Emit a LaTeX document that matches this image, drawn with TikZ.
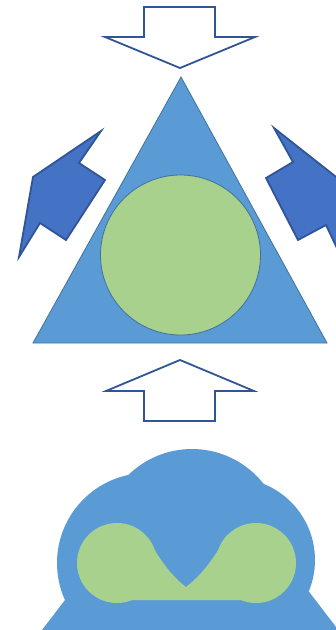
\documentclass[tikz,border=0pt]{standalone}
\definecolor{triblue}{HTML}{5B9BD5}
\definecolor{triedge}{HTML}{41719C}
\definecolor{arrfill}{HTML}{4472C4}
\definecolor{arredge}{HTML}{2F5597}
\definecolor{leaf}{HTML}{A9D18E}
\tikzset{
  outlinearrow/.style={draw=arredge, fill=white, line width=1.8pt, line join=miter},
  solidarrow/.style={draw=arredge, fill=arrfill, line width=1.8pt, line join=miter},
  triangleshape/.style={draw=triedge, fill=triblue, line width=0.8pt},
  innercircle/.style={draw=triedge, fill=leaf, line width=0.8pt},
  cloudpart/.style={fill=triblue},
  greenpart/.style={fill=leaf}
}
\begin{document}
\begin{tikzpicture}[x=1pt,y=-1pt]
\useasboundingbox (0,0) rectangle (336,630);
\begin{scope}
\clip (0,0) rectangle (336,630);
% top down arrow
\draw[outlinearrow] (144,7) -- (215,7) -- (215,37) -- (255,37) -- (180,68) -- (105,37) -- (144,37) -- cycle;
% triangle
\draw[triangleshape] (181,77) -- (327,343) -- (33,343) -- cycle;
% circle
\draw[innercircle] (180.5,255) circle[radius=80];
% left arrow
\draw[solidarrow] (101,131) -- (79,163) -- (105,180) -- (66,240) -- (40,223) -- (19,257) -- (33,177) -- cycle;
% right arrow
\draw[solidarrow] (274,128) -- (293,162) -- (266,178) -- (298,240) -- (326,225) -- (345,265) -- (340,180) -- cycle;
% bottom up arrow
\draw[outlinearrow] (180,360) -- (254,391) -- (215,391) -- (215,421) -- (144,421) -- (144,391) -- (106,391) -- cycle;
% bottom cloud shape
\fill[cloudpart] (192,540) circle[radius=91];
\fill[cloudpart] (147,563) circle[radius=90];
\fill[cloudpart] (233,560) circle[radius=82];
\fill[cloudpart] (72.7,590) -- (307.7,590) -- (346,640) -- (34.3,640) -- cycle;
% green shape
\fill[greenpart] (117,563) circle[radius=40];
\fill[greenpart] (256,563) circle[radius=40];
\fill[greenpart] (186,587) .. controls (168,573) and (158,556) .. (147,537) -- (117,563) -- (117,600) -- (256,600) -- (256,563) -- (226,537) .. controls (215,556) and (204,573) .. (186,587) -- cycle;
\end{scope}
\end{tikzpicture}
\end{document}
